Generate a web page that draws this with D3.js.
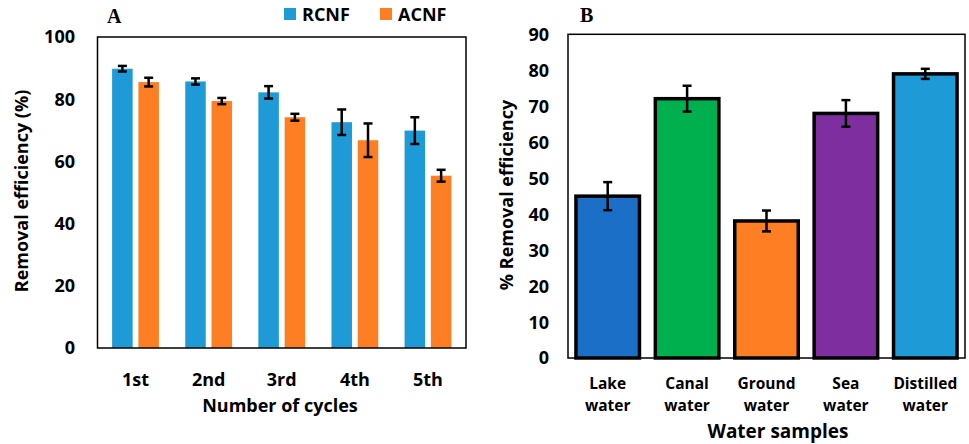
<!DOCTYPE html>
<html>
<head>
<meta charset="utf-8">
<script src="https://cdn.jsdelivr.net/npm/d3@7"></script>
<style>
  body { margin: 0; background: #fff; }
  svg text { font-family: "Open Sans", Lato, sans-serif; font-weight: bold; fill: #000; }
</style>
</head>
<body>
<svg id="chart" width="969" height="444"></svg>
<script>
// panel A: reusability cycles
var cycles = ["1st", "2nd", "3rd", "4th", "5th"];
var seriesNames = ["RCNF", "ACNF"];
var rcnfVals = [89.8, 85.7, 82.2, 72.6, 69.9];
var rcnfErr = [0.9, 1.0, 2.0, 4.1, 4.3];
var acnfVals = [85.5, 79.4, 74.2, 66.8, 55.4];
var acnfErr = [1.4, 1.0, 1.1, 5.4, 1.9];
var ticksA = [0, 20, 40, 60, 80, 100];

// panel B: water samples
var samples = [["Lake", "water"], ["Canal", "water"], ["Ground", "water"], ["Sea", "water"], ["Distilled", "water"]];
var sampleVals = [45, 72.1, 38.1, 68, 79];
var sampleErr = [3.9, 3.6, 2.9, 3.7, 1.4];
var ticksB = [0, 10, 20, 30, 40, 50, 60, 70, 80, 90];

var seriesColors = ["#1e9ad6", "#fd7e23"];
var sampleColors = ["#1b6fc6", "#00b04f", "#fd7e23", "#7f2ea0", "#1e9ad6"];

var svg = d3.select("#chart");

function errBar(g, cx, yTop, yBot, cap, w) {
    g.append("line").attr("x1", cx).attr("x2", cx).attr("y1", yTop).attr("y2", yBot)
        .attr("stroke", "#000").attr("stroke-width", w);
    [yTop, yBot].forEach(function (yy) {
        g.append("line").attr("x1", cx - cap).attr("x2", cx + cap).attr("y1", yy).attr("y2", yy)
            .attr("stroke", "#000").attr("stroke-width", w);
    });
}

// ---------- A ----------
var A = { left: 97.5, right: 466, top: 37, bottom: 348 };
var xA = d3.scaleBand().domain(cycles).range([A.left, A.right]).paddingInner(0.36).paddingOuter(0.2);
var xSub = d3.scaleBand().domain(seriesNames).range([0, xA.bandwidth()]).paddingInner(0.22);
var yA = d3.scaleLinear().domain([0, 100]).range([A.bottom, A.top]);
var gA = svg.append("g");

var dataA = [rcnfVals, acnfVals];
var errA = [rcnfErr, acnfErr];
seriesNames.forEach(function (s, si) {
    gA.selectAll(".bar" + si).data(cycles).enter().append("rect")
        .attr("x", function (d) { return xA(d) + xSub(s); })
        .attr("width", xSub.bandwidth())
        .attr("y", function (d, i) { return yA(dataA[si][i]); })
        .attr("height", function (d, i) { return A.bottom - yA(dataA[si][i]); })
        .attr("fill", seriesColors[si]);
});
seriesNames.forEach(function (s, si) {
    cycles.forEach(function (c, i) {
        var cx = xA(c) + xSub(s) + xSub.bandwidth() / 2;
        errBar(gA, cx, yA(dataA[si][i] + errA[si][i]), yA(dataA[si][i] - errA[si][i]), 4.5, 2.5);
    });
});
gA.append("rect").attr("x", A.left).attr("y", A.top)
    .attr("width", A.right - A.left).attr("height", A.bottom - A.top)
    .attr("fill", "none").attr("stroke", "#000").attr("stroke-width", 1.5);

gA.selectAll(".ytA").data(ticksA).enter().append("text")
    .attr("x", 75).attr("y", function (d) { return yA(d); })
    .attr("dy", "0.36em").attr("text-anchor", "end").style("font-size", "18px")
    .text(function (d) { return d; });
gA.selectAll(".xtA").data(cycles).enter().append("text")
    .attr("x", function (d) { return xA(d) + xA.bandwidth() / 2; }).attr("y", 386)
    .attr("text-anchor", "middle").style("font-size", "18px")
    .text(function (d) { return d; });
gA.append("text").attr("x", 280).attr("y", 412).attr("text-anchor", "middle")
    .style("font-size", "18px").text("Number of cycles");
gA.append("text").attr("transform", "translate(28,191) rotate(-90)").attr("text-anchor", "middle")
    .style("font-size", "18px").text("Removal efficiency (%)");
gA.append("text").attr("x", 107).attr("y", 23).style("font-family", "'Liberation Serif', serif")
    .style("font-size", "20px").text("A");

// legend
var legX = [284, 380];
seriesNames.forEach(function (s, si) {
    gA.append("rect").attr("x", legX[si]).attr("y", 8).attr("width", 12).attr("height", 12)
        .attr("fill", seriesColors[si]);
    gA.append("text").attr("x", legX[si] + 18).attr("y", 20.5).style("font-size", "18px").text(s);
});

// ---------- B ----------
var B = { left: 568, right: 965, top: 34.3, bottom: 358 };
var xB = d3.scaleBand().domain(d3.range(samples.length)).range([B.left, B.right]).paddingInner(0.2).paddingOuter(0.1);
var yB = d3.scaleLinear().domain([0, 90]).range([B.bottom, B.top]);
var gB = svg.append("g");

gB.selectAll(".barB").data(sampleVals).enter().append("rect")
    .attr("x", function (d, i) { return xB(i); })
    .attr("width", xB.bandwidth())
    .attr("y", function (d) { return yB(d); })
    .attr("height", function (d) { return B.bottom - yB(d); })
    .attr("fill", function (d, i) { return sampleColors[i]; })
    .attr("stroke", "#000").attr("stroke-width", 3.5);
sampleVals.forEach(function (v, i) {
    var cx = xB(i) + xB.bandwidth() / 2;
    errBar(gB, cx, yB(v + sampleErr[i]), yB(v - sampleErr[i]), 4.5, 2.5);
});
gB.append("rect").attr("x", B.left).attr("y", B.top)
    .attr("width", B.right - B.left).attr("height", B.bottom - B.top)
    .attr("fill", "none").attr("stroke", "#000").attr("stroke-width", 1.5);

gB.selectAll(".ytB").data(ticksB).enter().append("text")
    .attr("x", 549).attr("y", function (d) { return yB(d); })
    .attr("dy", "0.36em").attr("text-anchor", "end").style("font-size", "18px")
    .text(function (d) { return d; });
samples.forEach(function (lines, i) {
    var t = gB.append("text").attr("text-anchor", "middle").style("font-size", "15.5px");
    lines.forEach(function (ln, li) {
        t.append("tspan").attr("x", xB(i) + xB.bandwidth() / 2).attr("y", 389 + li * 22).text(ln);
    });
});
gB.append("text").attr("x", 778).attr("y", 438).attr("text-anchor", "middle")
    .style("font-size", "19px").text("Water samples");
gB.append("text").attr("transform", "translate(513,195) rotate(-90)").attr("text-anchor", "middle")
    .style("font-size", "18px").text("% Removal efficiency");
gB.append("text").attr("x", 580).attr("y", 22).style("font-family", "'Liberation Serif', serif")
    .style("font-size", "20px").text("B");
</script>
</body>
</html>
